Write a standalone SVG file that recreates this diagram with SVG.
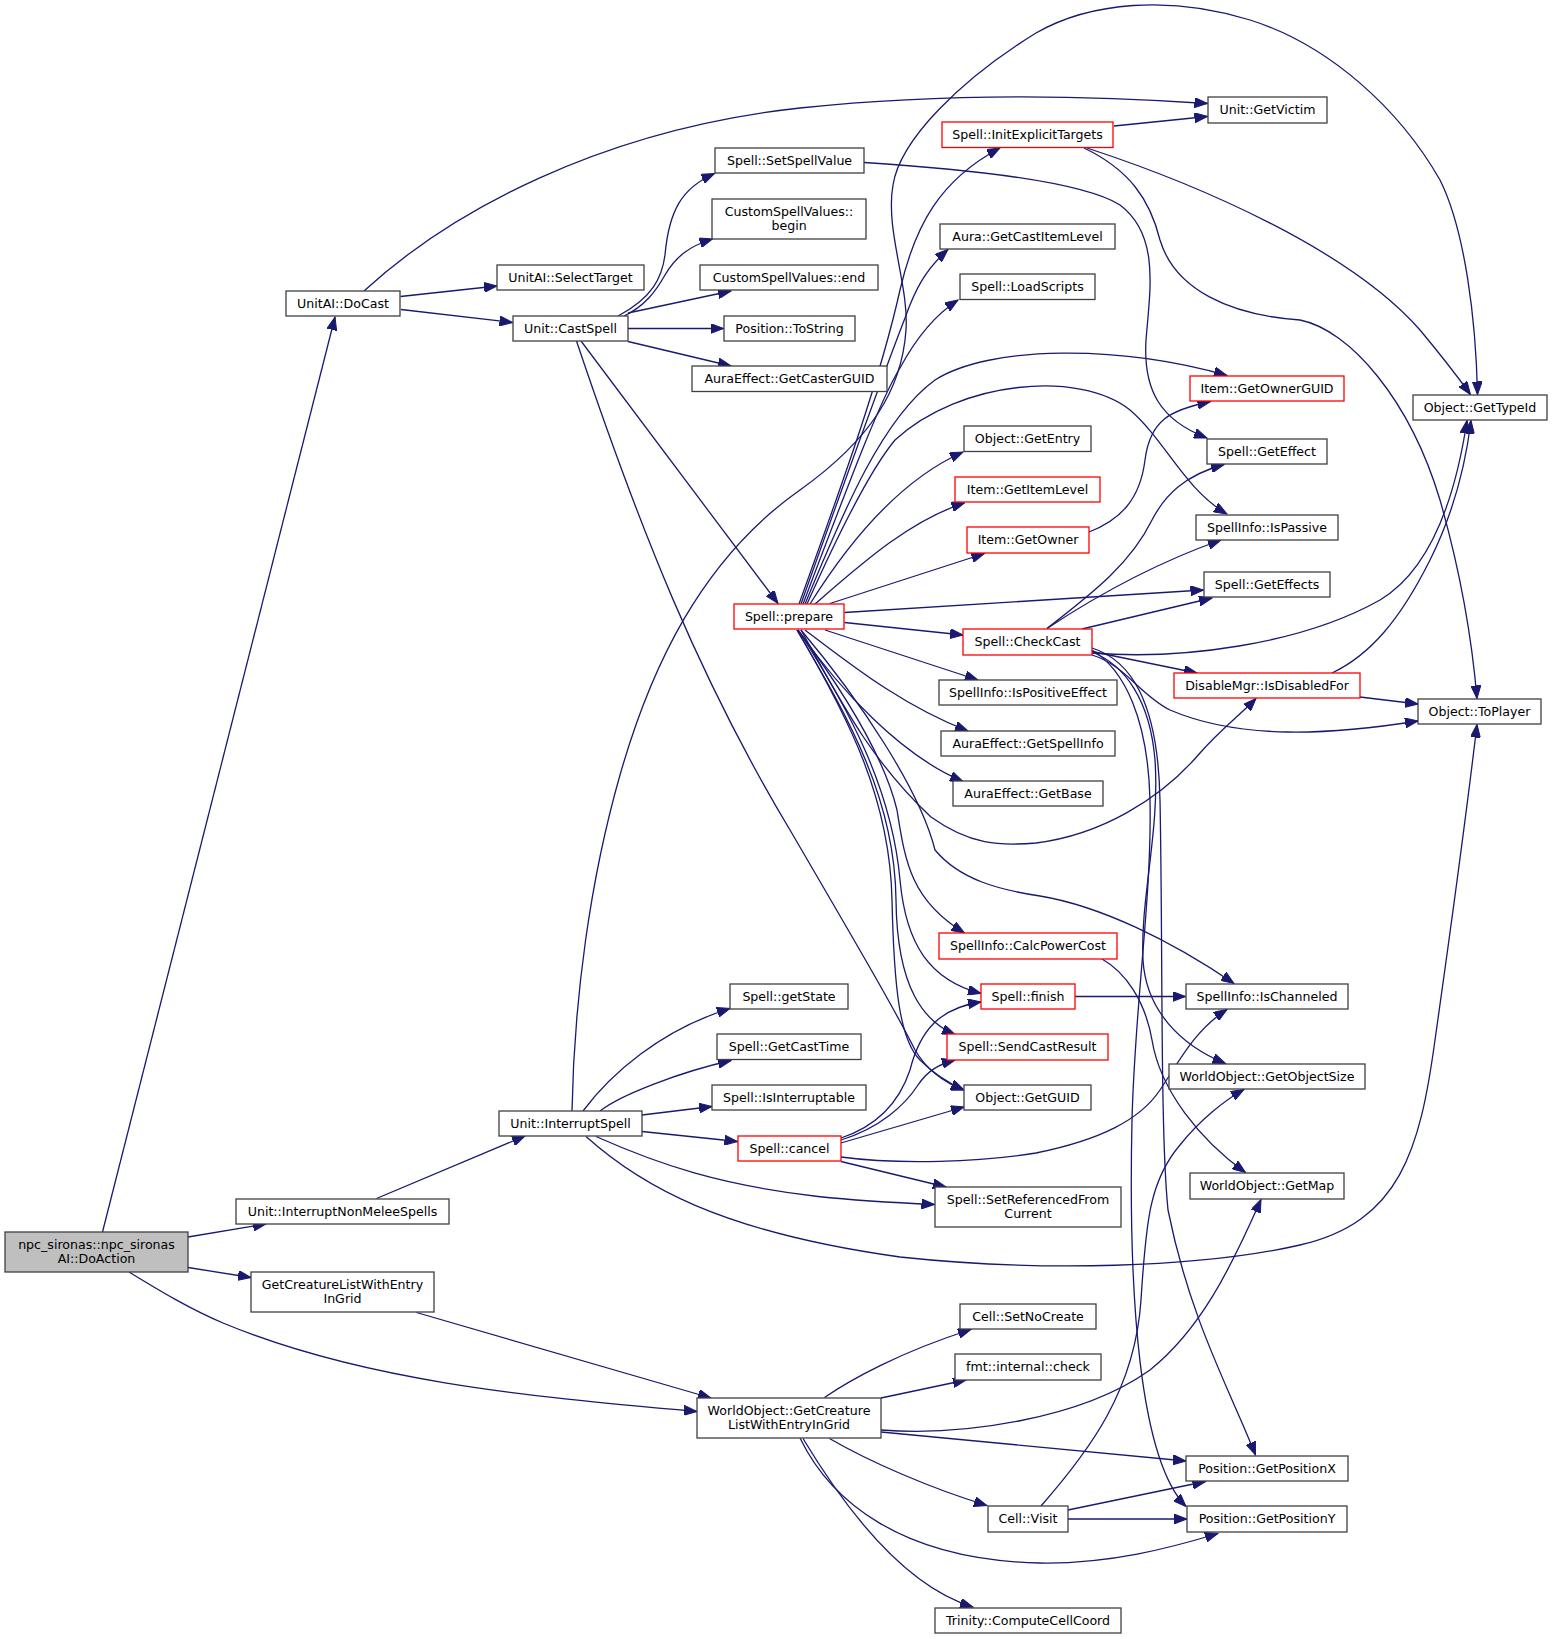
<svg xmlns="http://www.w3.org/2000/svg" width="1552" height="1639" viewBox="0 0 1552 1639">
<style>
.n rect{fill:#ffffff;stroke:#404040;stroke-width:1.3}
.r rect{fill:#ffffff;stroke:#ff0000;stroke-width:1.3}
.g rect{fill:#bfbfbf;stroke:#404040;stroke-width:1.3}
text{font-family:"DejaVu Sans","Liberation Sans",sans-serif;font-size:12.6px;text-anchor:middle;fill:#000000}
#edges path{fill:none;stroke:#191970;stroke-width:1.3;marker-end:url(#a)}
</style>
<defs>
<marker id="a" markerWidth="14" markerHeight="10" refX="13" refY="5" orient="auto" markerUnits="userSpaceOnUse">
<path d="M0,0L13,5L0,10z" fill="#191970" stroke="#191970" stroke-width="1"/>
</marker>
</defs>
<rect width="1552" height="1639" fill="#ffffff"/>
<g id="edges">
<path d="M102.5,1232 L335,317"/>
<path d="M188,1237 L266,1224"/>
<path d="M188,1267.5 L251,1277.5"/>
<path d="M129,1272 C160,1291 190,1309 223,1323 C360,1380 520,1396 697,1411.5"/>
<path d="M364,291 C450,212 600,130 800,108 C950,92 1100,96 1207.5,103.5"/>
<path d="M400.5,296.5 L497,286"/>
<path d="M401,309.5 L512.5,322.5"/>
<path d="M618,316 C652,298 662,278 665,255 C669,210 682,188 714.5,173.5"/>
<path d="M624,316 C645,306 656,291 665,275 C676,256 690,246 712.5,239"/>
<path d="M628,313 L731,291"/>
<path d="M628,328.5 L723.5,328.5"/>
<path d="M628,341.5 L731,366"/>
<path d="M581,341 L778,603.5"/>
<path d="M576.5,341 C640,530 700,680 790,830 C860,950 895,1010 915,1050 C928,1072 945,1083 964,1090"/>
<path d="M583,1111 C610,1075 660,1030 730,1008.5"/>
<path d="M600,1111 C620,1095 680,1072 731,1060.5"/>
<path d="M642,1115 L712,1106.5"/>
<path d="M642,1131.5 L737.5,1141.5"/>
<path d="M596,1136.5 C660,1165 720,1185 818,1196.5 C860,1201 900,1203 934.5,1204.5"/>
<path d="M586,1136.5 C640,1185 720,1232 900,1257 C1040,1272 1200,1268 1300,1245 C1400,1222 1420,1150 1435,1040 C1452,920 1468,800 1477,724.5"/>
<path d="M572,1111 C574,1000 590,880 620,775 C650,670 700,560 800,490 C870,440 902,390 906,330 C909,285 885,230 893,185 C900,140 960,80 1036,33 C1090,2 1170,-5 1250,20 C1330,45 1400,110 1440,180 C1465,230 1476,320 1477.5,394.5"/>
<path d="M376.5,1198.5 L525,1136"/>
<path d="M416.5,1312.5 L711,1398"/>
<path d="M824.5,1397.5 C850,1380 900,1352 971,1329.5"/>
<path d="M881,1398 L966,1380"/>
<path d="M881,1430 C960,1436 1080,1420 1150,1370 C1200,1330 1230,1270 1261,1199.5"/>
<path d="M881,1432 L1186,1461"/>
<path d="M829.5,1438.5 C870,1462 930,1488 987,1505.5"/>
<path d="M800,1438 C830,1500 900,1560 1040,1563 C1110,1564 1170,1548 1218,1533.5"/>
<path d="M803,1438.5 C840,1500 900,1585 973,1607"/>
<path d="M1068,1510 L1205.5,1481.5"/>
<path d="M1068,1519 L1187,1519"/>
<path d="M1041,1506 C1090,1450 1135,1390 1141,1300 C1146,1220 1150,1180 1180,1145 C1200,1120 1225,1100 1244,1089.5"/>
<path d="M1047,628.5 C1090,595 1130,565 1152,520 C1165,495 1185,475 1224,464.5"/>
<path d="M1047,628.5 C1090,600 1150,565 1221,540"/>
<path d="M1082,629 L1212,598"/>
<path d="M1092,653 C1180,660 1300,645 1380,600 C1430,570 1455,500 1467,420.5"/>
<path d="M1332,673 C1370,655 1400,620 1430,560 C1450,520 1465,470 1471,420.5"/>
<path d="M1092,651.5 L1197,673"/>
<path d="M1092,655 C1125,665 1140,695 1170,710 C1240,740 1330,735 1418,721"/>
<path d="M1360,697 L1418,704"/>
<path d="M1092,652 C1125,665 1150,700 1155,760 C1160,830 1140,900 1143,960 C1146,1010 1180,1045 1225.5,1063.5"/>
<path d="M1092,648 C1130,660 1158,700 1160,800 C1163,950 1160,1130 1168,1210 C1190,1320 1230,1390 1255.5,1455"/>
<path d="M1092,650 C1125,670 1148,720 1150,800 C1152,900 1135,1000 1132,1120 C1128,1300 1140,1460 1186,1506.5"/>
<path d="M1102,959 C1125,972 1145,1000 1152,1040 C1160,1090 1200,1140 1245.5,1172.5"/>
<path d="M801,630 C860,700 920,790 935,850 C960,880 1000,890 1040,896 C1100,906 1170,940 1234,983.5"/>
<path d="M801,630 C840,700 870,760 931,817 C970,845 1000,846 1036,843 C1100,835 1160,800 1200,753 C1220,730 1240,715 1256,698.5"/>
<path d="M798,630 C850,700 885,760 897,810 C905,860 910,900 964.5,933"/>
<path d="M798,630 C850,710 892,790 900,880 C906,945 930,980 981,993.5"/>
<path d="M797,630 C850,720 895,800 896,900 C897,990 925,1022 955,1034.5"/>
<path d="M797,630 C850,720 890,800 892,900 C894,990 900,1040 920,1060 C935,1075 948,1083 964,1090"/>
<path d="M841,1138 C880,1125 900,1100 910,1070 C920,1030 940,1008 981,1002"/>
<path d="M841,1140 C880,1128 905,1105 918,1085 C928,1070 940,1064 955,1060"/>
<path d="M841,1143 L964,1107"/>
<path d="M841,1161.5 L946,1187"/>
<path d="M841,1157 C900,1165 980,1162 1036,1153 C1100,1140 1140,1120 1160,1090 C1180,1060 1195,1030 1227,1009.5"/>
<path d="M1075,996.5 L1185.5,996.5"/>
<path d="M830,603.5 L984.5,553.5"/>
<path d="M844.5,612.5 L1203.5,590"/>
<path d="M844.5,622.5 L963,635"/>
<path d="M825,630 L978,680"/>
<path d="M805,630 C845,660 900,705 968,731"/>
<path d="M798,630 C840,690 900,755 963,781.5"/>
<path d="M799,604 C840,490 880,380 900,290 C915,225 940,180 1000,148"/>
<path d="M801,604 C845,480 885,370 905,318 C915,290 925,270 948,249.5"/>
<path d="M803,604 C850,480 880,400 900,368 C915,340 935,315 958,300"/>
<path d="M805,604 C840,520 880,420 935,380 C990,345 1120,345 1227,375.5"/>
<path d="M807,604 C840,530 870,470 895,440 C960,380 1080,370 1130,410 C1165,440 1185,490 1227,514"/>
<path d="M810,604 C850,540 900,480 963,452"/>
<path d="M815,604 C860,565 910,520 964.5,503"/>
<path d="M864,162.5 C950,168 1080,180 1120,205 C1160,235 1150,290 1146,340 C1143,390 1160,420 1207,438"/>
<path d="M1114,126 L1207.5,116.5"/>
<path d="M1087,148 C1200,185 1350,250 1420,330 C1445,360 1460,380 1470.5,394.5"/>
<path d="M1084,148 C1130,170 1150,200 1160,240 C1175,290 1230,315 1300,320 C1350,330 1410,400 1440,500 C1460,570 1472,640 1477,698.5"/>
<path d="M1089,532 C1120,520 1140,500 1145,460 C1150,420 1170,410 1210.5,401.5"/>
</g>
<g id="n0" class="g"><rect x="5" y="1232" width="183" height="40"/><text x="96.5" y="1249">npc_sironas::npc_sironas</text><text x="96.5" y="1263">AI::DoAction</text></g>
<g id="n1" class="n"><rect x="286" y="291" width="114" height="25"/><text x="343" y="308">UnitAI::DoCast</text></g>
<g id="n2" class="n"><rect x="236" y="1199" width="213" height="25"/><text x="342.5" y="1216">Unit::InterruptNonMeleeSpells</text></g>
<g id="n3" class="n"><rect x="251" y="1272" width="183" height="40"/><text x="342.5" y="1289">GetCreatureListWithEntry</text><text x="342.5" y="1303">InGrid</text></g>
<g id="n4" class="n"><rect x="697" y="1398" width="184" height="40"/><text x="789" y="1415">WorldObject::GetCreature</text><text x="789" y="1429">ListWithEntryInGrid</text></g>
<g id="n5" class="n"><rect x="497" y="265" width="147" height="25"/><text x="570.5" y="282">UnitAI::SelectTarget</text></g>
<g id="n6" class="n"><rect x="513" y="316" width="115" height="25"/><text x="570.5" y="333">Unit::CastSpell</text></g>
<g id="n7" class="n"><rect x="499" y="1111" width="143" height="25"/><text x="570.5" y="1128">Unit::InterruptSpell</text></g>
<g id="n8" class="n"><rect x="715" y="148" width="149" height="25"/><text x="789.5" y="165">Spell::SetSpellValue</text></g>
<g id="n9" class="n"><rect x="712" y="199" width="154" height="40"/><text x="789" y="215.5">CustomSpellValues::</text><text x="789" y="230">begin</text></g>
<g id="n10" class="n"><rect x="700" y="265" width="178" height="25"/><text x="789" y="282">CustomSpellValues::end</text></g>
<g id="n11" class="n"><rect x="724" y="316" width="131" height="25"/><text x="789.5" y="333">Position::ToString</text></g>
<g id="n12" class="n"><rect x="692" y="366" width="195" height="25.5"/><text x="789.5" y="383">AuraEffect::GetCasterGUID</text></g>
<g id="n13" class="r"><rect x="734" y="604" width="110" height="25"/><text x="789" y="621">Spell::prepare</text></g>
<g id="n14" class="n"><rect x="730" y="984" width="118" height="25"/><text x="789" y="1001">Spell::getState</text></g>
<g id="n15" class="n"><rect x="717" y="1034" width="144" height="25.5"/><text x="789" y="1051">Spell::GetCastTime</text></g>
<g id="n16" class="n"><rect x="712" y="1085" width="154" height="25"/><text x="789" y="1102">Spell::IsInterruptable</text></g>
<g id="n17" class="r"><rect x="738" y="1136" width="103" height="25"/><text x="789.5" y="1153">Spell::cancel</text></g>
<g id="n18" class="r"><rect x="942" y="122" width="171" height="25.5"/><text x="1027.5" y="139">Spell::InitExplicitTargets</text></g>
<g id="n19" class="n"><rect x="940" y="224" width="175" height="25"/><text x="1027.5" y="241">Aura::GetCastItemLevel</text></g>
<g id="n20" class="n"><rect x="960" y="274" width="135" height="25.5"/><text x="1027.5" y="291">Spell::LoadScripts</text></g>
<g id="n21" class="n"><rect x="964" y="426" width="127" height="25.5"/><text x="1027.5" y="443">Object::GetEntry</text></g>
<g id="n22" class="r"><rect x="955" y="477" width="145" height="25"/><text x="1027.5" y="494">Item::GetItemLevel</text></g>
<g id="n23" class="r"><rect x="967" y="527" width="122" height="26"/><text x="1028" y="544">Item::GetOwner</text></g>
<g id="n24" class="r"><rect x="963" y="629" width="129" height="26"/><text x="1027.5" y="646">Spell::CheckCast</text></g>
<g id="n25" class="n"><rect x="939" y="680" width="178" height="25"/><text x="1028" y="697">SpellInfo::IsPositiveEffect</text></g>
<g id="n26" class="n"><rect x="941" y="731" width="174" height="25"/><text x="1028" y="748">AuraEffect::GetSpellInfo</text></g>
<g id="n27" class="n"><rect x="953" y="781" width="150" height="25"/><text x="1028" y="798">AuraEffect::GetBase</text></g>
<g id="n28" class="r"><rect x="939" y="933" width="178" height="26"/><text x="1028" y="950">SpellInfo::CalcPowerCost</text></g>
<g id="n29" class="r"><rect x="981" y="984" width="94" height="25"/><text x="1028" y="1001">Spell::finish</text></g>
<g id="n30" class="r"><rect x="947" y="1034" width="161" height="26"/><text x="1027.5" y="1051">Spell::SendCastResult</text></g>
<g id="n31" class="n"><rect x="964" y="1085" width="127" height="25"/><text x="1027.5" y="1102">Object::GetGUID</text></g>
<g id="n32" class="n"><rect x="935" y="1187" width="186" height="40"/><text x="1028" y="1203.5">Spell::SetReferencedFrom</text><text x="1028" y="1218">Current</text></g>
<g id="n33" class="n"><rect x="960" y="1304" width="136" height="25"/><text x="1028" y="1321">Cell::SetNoCreate</text></g>
<g id="n34" class="n"><rect x="955" y="1354" width="146" height="26"/><text x="1028" y="1371">fmt::internal::check</text></g>
<g id="n35" class="n"><rect x="988" y="1506" width="80" height="26"/><text x="1028" y="1523">Cell::Visit</text></g>
<g id="n36" class="n"><rect x="935" y="1608" width="186" height="25"/><text x="1028" y="1625">Trinity::ComputeCellCoord</text></g>
<g id="n37" class="n"><rect x="1208" y="97" width="119" height="26"/><text x="1267.5" y="114">Unit::GetVictim</text></g>
<g id="n38" class="r"><rect x="1190" y="376" width="154" height="25"/><text x="1267" y="393">Item::GetOwnerGUID</text></g>
<g id="n39" class="n"><rect x="1207" y="439" width="120" height="25"/><text x="1267" y="456">Spell::GetEffect</text></g>
<g id="n40" class="n"><rect x="1196" y="515" width="142" height="25"/><text x="1267" y="532">SpellInfo::IsPassive</text></g>
<g id="n41" class="n"><rect x="1204" y="572" width="126" height="25"/><text x="1267" y="589">Spell::GetEffects</text></g>
<g id="n42" class="r"><rect x="1174" y="673" width="186" height="25"/><text x="1267" y="690">DisableMgr::IsDisabledFor</text></g>
<g id="n43" class="n"><rect x="1186" y="984" width="162" height="25"/><text x="1267" y="1001">SpellInfo::IsChanneled</text></g>
<g id="n44" class="n"><rect x="1169" y="1064" width="196" height="25"/><text x="1267" y="1081">WorldObject::GetObjectSize</text></g>
<g id="n45" class="n"><rect x="1190" y="1173" width="154" height="26"/><text x="1267" y="1190">WorldObject::GetMap</text></g>
<g id="n46" class="n"><rect x="1186" y="1456" width="162" height="25"/><text x="1267" y="1473">Position::GetPositionX</text></g>
<g id="n47" class="n"><rect x="1187" y="1506" width="160" height="26"/><text x="1267" y="1523">Position::GetPositionY</text></g>
<g id="n48" class="n"><rect x="1413" y="395" width="134" height="25"/><text x="1480" y="412">Object::GetTypeId</text></g>
<g id="n49" class="n"><rect x="1418" y="699" width="123" height="25"/><text x="1479.5" y="716">Object::ToPlayer</text></g>
</svg>
